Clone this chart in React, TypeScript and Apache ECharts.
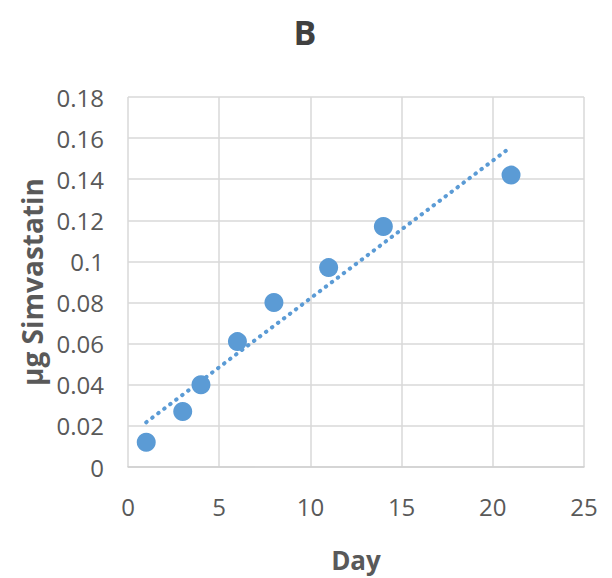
import React, { useEffect, useRef } from "react";
import * as echarts from "echarts";

const days = [1, 3, 4, 6, 8, 11, 14, 21];
const simvastatin = [0.012, 0.027, 0.040, 0.061, 0.080, 0.097, 0.117, 0.142];
const titleText = "B";
const xName = "Day";
const yName = "µg Simvastatin";

function trend(xs: number[], ys: number[]) {
  const n = xs.length;
  const mx = xs.reduce((a, b) => a + b, 0) / n;
  const my = ys.reduce((a, b) => a + b, 0) / n;
  let sxy = 0, sxx = 0;
  for (let i = 0; i < n; i++) {
    sxy += (xs[i] - mx) * (ys[i] - my);
    sxx += (xs[i] - mx) * (xs[i] - mx);
  }
  const slope = sxy / sxx;
  const icpt = my - slope * mx;
  const x0 = Math.min(...xs), x1 = Math.max(...xs);
  return [[x0, icpt + slope * x0], [x1, icpt + slope * x1]];
}

export default function App() {
  const ref = useRef<HTMLDivElement>(null);
  useEffect(() => {
    const chart = echarts.init(ref.current!, null, { renderer: "svg" });
    const font = "'Open Sans', 'DejaVu Sans', sans-serif";
    const color = "#5B9BD5";
    chart.setOption({
      animation: false,
      backgroundColor: "#ffffff",
      title: {
        text: titleText,
        left: 300,
        top: 10,
        textAlign: "center",
        textStyle: { fontFamily: font, fontSize: 34, fontWeight: "bold", color: "#404040" },
      },
      grid: { left: 128, right: 28, top: 97, bottom: 111 },
      xAxis: {
        type: "value",
        min: 0,
        max: 25,
        interval: 5,
        name: xName,
        nameLocation: "middle",
        nameGap: 93,
        nameTextStyle: { fontFamily: font, fontSize: 26, fontWeight: "bold", color: "#595959", verticalAlign: "middle" },
        axisLine: { show: true, lineStyle: { color: "#d0d0d0", width: 1.5 } },
        axisTick: { show: false },
        axisLabel: { fontFamily: font, fontSize: 24, color: "#595959", margin: 27 },
        splitLine: { show: true, lineStyle: { color: "#d9d9d9", width: 1.5 } },
      },
      yAxis: {
        type: "value",
        min: 0,
        max: 0.18,
        interval: 0.02,
        name: yName,
        nameLocation: "middle",
        nameGap: 95,
        nameRotate: 90,
        nameTextStyle: { fontFamily: font, fontSize: 28, fontWeight: "bold", color: "#595959", verticalAlign: "middle" },
        axisLine: { show: false },
        axisTick: { show: false },
        axisLabel: {
          fontFamily: font,
          fontSize: 24,
          color: "#595959",
          margin: 24,
          formatter: (v: number) => String(parseFloat(v.toFixed(2))),
        },
        splitLine: { show: true, lineStyle: { color: "#d9d9d9", width: 1.5 } },
      },
      series: [
        {
          type: "line",
          data: trend(days, simvastatin),
          symbol: "none",
          lineStyle: { color, width: 4, type: [0.5, 7], cap: "round" },
          z: 2,
        },
        {
          type: "scatter",
          data: days.map((d, i) => [d, simvastatin[i]]),
          symbol: "circle",
          symbolSize: 19,
          itemStyle: { color, opacity: 1 },
          z: 3,
        },
      ],
    });
    return () => chart.dispose();
  }, []);
  return (
    <div
      ref={ref}
      style={{ position: "fixed", left: 0, top: 0, width: 612, height: 578 }}
    />
  );
}
